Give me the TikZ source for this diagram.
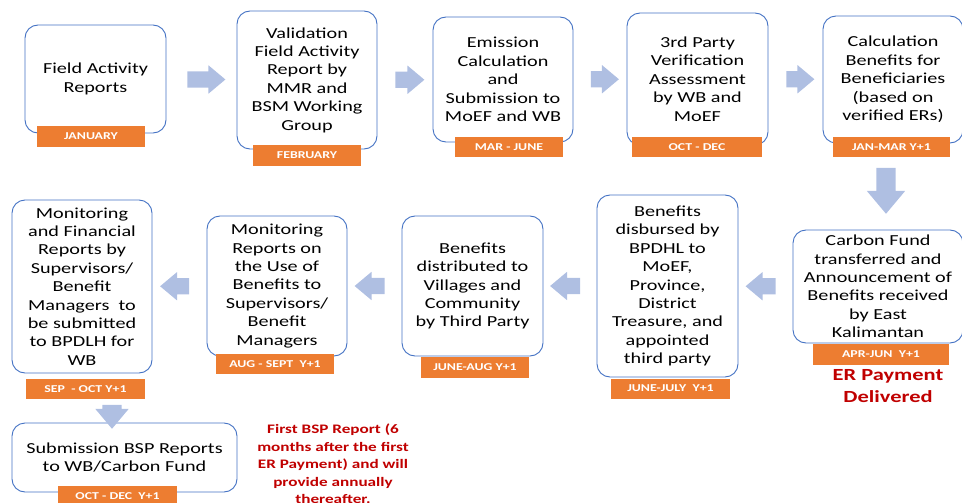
\documentclass[tikz,border=0pt]{standalone}
\usepackage{fontspec}
\setmainfont{Carlito}[FakeStretch=1.32]
\usetikzlibrary{shapes.arrows,calc}
\definecolor{boxblue}{HTML}{4472C4}
\definecolor{laborange}{HTML}{ED7D31}
\definecolor{arrowc}{HTML}{AFBFE2}
\definecolor{redtxt}{HTML}{C00000}
\begin{document}
\begin{tikzpicture}[x=1pt,y=-1pt,
 box/.style={draw=boxblue, line width=0.9pt, rounded corners=13pt, fill=white, align=center, inner sep=1pt, font=\fontsize{15.3}{18.4}\selectfont},
 lab/.style={fill=laborange, text=white, inner sep=0pt, font=\bfseries\fontsize{10.5}{12}\selectfont},
 barrow/.style={single arrow, fill=arrowc, draw=none, inner xsep=0pt, inner ysep=8pt, single arrow head extend=6pt, single arrow tip angle=80},
 note/.style={text=redtxt, align=center, font=\bfseries\fontsize{13}{17.5}\selectfont}]
\useasboundingbox (0,0) rectangle (962,503);
% top row
\node[box, minimum width=141pt, minimum height=108pt] (b1) at (95.5,79) {Field Activity\\Reports};
\node[box, minimum width=140pt, minimum height=138pt] (b2) at (307,80) {Validation\\Field Activity\\Report by\\MMR and\\BSM Working\\Group};
\node[box, minimum width=140pt, minimum height=125pt] (b3) at (503,79.5) {Emission\\Calculation\\and\\Submission to\\MoEF and WB};
\node[box, minimum width=141pt, minimum height=132pt] (b4) at (697.5,79) {3rd Party\\Verification\\Assessment\\by WB and\\MoEF};
\node[box, minimum width=140pt, minimum height=127pt] (b5) at (893,79.5) {Calculation\\Benefits for\\Beneficiaries\\(based on\\verified ERs)};
\node[lab, minimum width=108pt, minimum height=21pt] (l1) at (91,136.5) {JANUARY};
\node[lab, minimum width=108pt, minimum height=21pt] (l2) at (307,155.5) {FEBRUARY};
\node[lab, minimum width=108pt, minimum height=20pt] (l3) at (509,147) {MAR - JUNE};
\node[lab, minimum width=130pt, minimum height=20pt] (l4) at (697,147) {OCT - DEC};
\node[lab, minimum width=117pt, minimum height=20pt] (l5) at (891.5,147) {JAN-MAR Y+1};
% second row
\node[box, minimum width=170pt, minimum height=113pt] (b6) at (878,286.5) {Carbon Fund\\transferred and\\Announcement of\\Benefits received\\by East\\Kalimantan};
\node[box, minimum width=141pt, minimum height=182pt] (b7) at (667.5,286) {Benefits\\disbursed by\\BPDHL to\\MoEF,\\Province,\\District\\Treasure, and\\appointed\\third party};
\node[box, minimum width=141pt, minimum height=140pt] (b8) at (472.5,286) {Benefits\\distributed to\\Villages and\\Community\\by Third Party};
\node[box, minimum width=140pt, minimum height=140pt] (b9) at (277,286) {Monitoring\\Reports on\\the Use of\\Benefits to\\Supervisors/\\Benefit\\Managers};
\node[box, minimum width=140pt, minimum height=173pt] (b10) at (82,286.5) {Monitoring\\and Financial\\Reports by\\Supervisors/\\Benefit\\Managers~ to\\be submitted\\to BPDLH for\\WB};
\node[lab, minimum width=136pt, minimum height=21pt] (l6) at (881,354.5) {APR-JUN~ Y+1};
\node[lab, minimum width=119pt, minimum height=20pt] (l7) at (670.5,388.5) {JUNE-JULY~ Y+1};
\node[lab, minimum width=108pt, minimum height=21pt] (l8) at (475,367.5) {JUNE-AUG Y+1};
\node[lab, minimum width=118pt, minimum height=20pt] (l9) at (275,364) {AUG - SEPT~ Y+1};
\node[lab, minimum width=119pt, minimum height=20pt] (l10) at (85.5,389) {SEP~ - OCT Y+1};
\node[note, font=\bfseries\fontsize{17}{22}\selectfont] (er) at (888,386) {ER Payment\\Delivered};
% bottom
\node[box, minimum width=225pt, minimum height=69pt] (b11) at (124.5,457.5) {Submission BSP Reports\\to WB/Carbon Fund};
\node[lab, minimum width=119pt, minimum height=20pt] (l11) at (117.5,496) {OCT - DEC~ Y+1};
\node[note] (bsp) at (333,464) {First BSP Report (6\\months after the first\\ER Payment) and will\\provide annually\\thereafter.};
% block arrows
\node[barrow, minimum height=38pt] (a1) at ($(b1.east)!.5!(b2.west)$) {};
\node[barrow, minimum height=29pt] (a2) at ($(b2.east)!.5!(b3.west)$) {};
\node[barrow, minimum height=28pt] (a3) at ($(b3.east)!.5!(b4.west)$) {};
\node[barrow, minimum height=28pt] (a4) at ($(b4.east)!.5!(b5.west)$) {};
\node[barrow, minimum height=46pt, inner ysep=9.5pt, single arrow head extend=9.5pt, rotate=-90] (a5) at (886,185) {};
\node[barrow, minimum height=30pt, rotate=180] (a6) at ($(b7.east)!.5!(b6.west)$) {};
\node[barrow, minimum height=30pt, rotate=180] (a7) at ($(b8.east)!.5!(b7.west)$) {};
\node[barrow, minimum height=30pt, rotate=180] (a8) at ($(b9.east)!.5!(b8.west)$) {};
\node[barrow, minimum height=29pt, rotate=180] (a9) at ($(b10.east)!.5!(b9.west)$) {};
\node[barrow, minimum height=24pt, inner ysep=9.5pt, single arrow head extend=7pt, rotate=-90] (a10) at (112,411) {};
\end{tikzpicture}
\end{document}
